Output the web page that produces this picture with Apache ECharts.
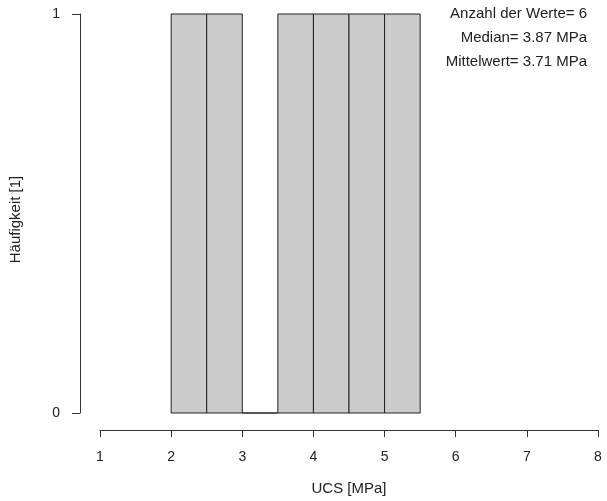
<!DOCTYPE html>
<html>
<head>
<meta charset="utf-8">
<script src="https://cdn.jsdelivr.net/npm/echarts@6/dist/echarts.min.js"></script>
<style>
html,body{margin:0;padding:0;background:#fff;}
#chart{width:607px;height:501px;}
</style>
</head>
<body>
<div id="chart"></div>
<script>
const binStarts = [2, 2.5, 3, 3.5, 4, 4.5, 5];
const binEnds = [2.5, 3, 3.5, 4, 4.5, 5, 5.5];
const counts = [1, 1, 0, 1, 1, 1, 1];
const statsLines = ["Anzahl der Werte= 6", "Median= 3.87 MPa", "Mittelwert= 3.71 MPa"];
const xLabel = "UCS [MPa]";
const yLabel = "Häufigkeit [1]";

const FONT = "'Liberation Sans', Arial, sans-serif";
const chart = echarts.init(document.getElementById('chart'));

const data = binStarts.map((s, i) => [s, binEnds[i], counts[i]]);

chart.setOption({
  animation: false,
  backgroundColor: '#ffffff',
  textStyle: { fontFamily: FONT },
  grid: { left: 100, right: 9, top: 14, bottom: 87 },
  xAxis: {
    type: 'value', min: 1, max: 8, interval: 1, offset: 17,
    axisLine: { show: true, onZero: false, lineStyle: { color: '#333', width: 1 } },
    axisTick: { show: true, length: 7, lineStyle: { color: '#333' } },
    axisLabel: { color: '#222', fontSize: 14, margin: 20, fontFamily: FONT },
    splitLine: { show: false },
    name: xLabel, nameLocation: 'middle', nameGap: 51,
    nameTextStyle: { color: '#222', fontSize: 15, fontFamily: FONT }
  },
  yAxis: {
    type: 'value', min: 0, max: 1, interval: 1, offset: 20,
    axisLine: { show: true, onZero: false, lineStyle: { color: '#333', width: 1 } },
    axisTick: { show: true, length: 8, lineStyle: { color: '#333' } },
    axisLabel: { color: '#222', fontSize: 14, margin: 20, fontFamily: FONT },
    splitLine: { show: false },
    name: yLabel, nameLocation: 'middle', nameGap: 57, nameRotate: 90,
    nameTextStyle: { color: '#222', fontSize: 15, fontFamily: FONT, padding: [0, 12, 0, 0] }
  },
  graphic: statsLines.map((t, i) => ({
    type: 'text', right: 20, top: 6 + i * 24,
    style: { text: t, fill: '#222', font: '15px ' + FONT, textAlign: 'right' }
  })),
  series: [{
    type: 'custom',
    data: data,
    encode: { x: [0, 1], y: 2 },
    renderItem: function (params, api) {
      const p0 = api.coord([api.value(0), 0]);
      const p1 = api.coord([api.value(1), api.value(2)]);
      return {
        type: 'rect',
        shape: { x: p0[0], y: p1[1], width: p1[0] - p0[0], height: p0[1] - p1[1] },
        style: { fill: '#cccccc', stroke: '#222', lineWidth: 1 }
      };
    }
  }]
});
</script>
</body>
</html>
